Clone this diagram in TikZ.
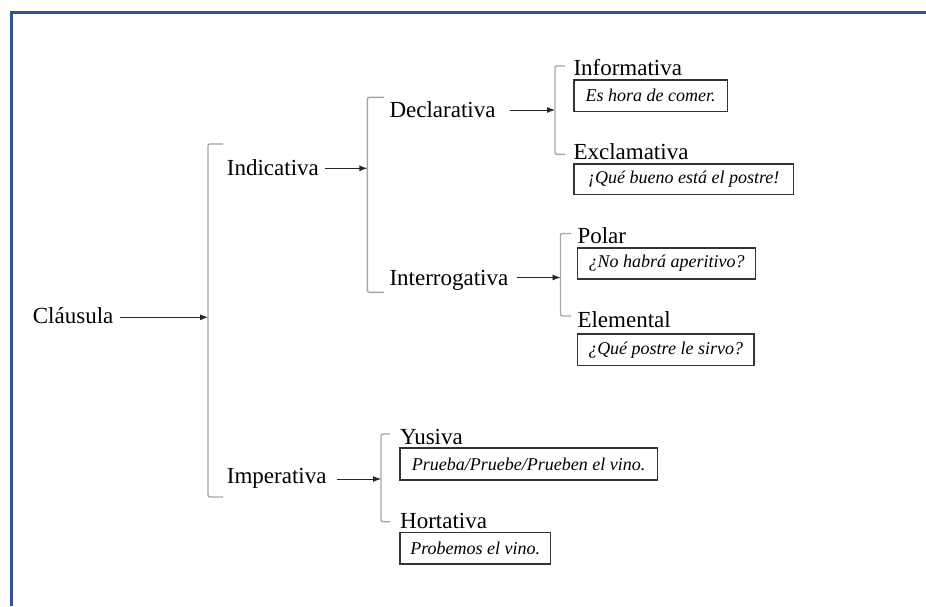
\documentclass[tikz,border=0pt]{standalone}
\usepackage{fontspec}
\setmainfont{Liberation Serif}
\usetikzlibrary{arrows.meta}
\definecolor{frameblue}{HTML}{2F5496}
\definecolor{brkgray}{HTML}{A6A6A6}
\begin{document}
\begin{tikzpicture}[x=1pt,y=-1pt,
  lab/.style={font=\fontsize{23}{26}\selectfont, anchor=base west, inner sep=0pt},
  ex/.style={draw=black!80, line width=1.3pt, font=\fontsize{18}{20}\selectfont\itshape, anchor=north west, inner sep=0pt},
  brk/.style={draw=brkgray, line width=1.4pt, rounded corners=2pt},
  arr/.style={-{Latex[length=8pt,width=6pt]}, line width=0.9pt, draw=black!85}]
\useasboundingbox (0,0) rectangle (926,606);
\fill[white] (0,0) rectangle (926,606);
\draw[frameblue, line width=3pt] (11.7,606) -- (11.7,12.5) -- (926,12.5);

% labels
\node[lab] (cl)  at (32.7,323.3) {Cláusula};
\node[lab] (ind) at (226.7,175) {Indicativa};
\node[lab] (imp) at (226.7,483.3) {Imperativa};
\node[lab] (dec) at (389.3,117) {Declarativa};
\node[lab] (int) at (389.3,285) {Interrogativa};
\node[lab] (inf) at (573.3,75.5) {Informativa};
\node[lab] (exc) at (573.3,159.3) {Exclamativa};
\node[lab] (pol) at (577.3,243.3) {Polar};
\node[lab] (ele) at (577.3,327.3) {Elemental};
\node[lab] (yus) at (400,444) {Yusiva};
\node[lab] (hor) at (400,528.3) {Hortativa};

% example boxes
\node[ex, minimum width=153.4pt, minimum height=31.4pt] (binf) at (573.3,79.3) {Es hora de comer.};
\node[ex, minimum width=219.7pt, minimum height=30.7pt] (bexc) at (573.3,163.3) {¡Qué bueno está el postre!};
\node[ex, minimum width=178.3pt, minimum height=31pt] (bpol) at (576.7,247.3) {¿No habrá aperitivo?};
\node[ex, minimum width=176.6pt, minimum height=31.7pt] (bele) at (576.7,333.3) {¿Qué postre le sirvo?};
\node[ex, minimum width=257.4pt, minimum height=32pt] (byus) at (399.3,447.3) {Prueba/Pruebe/Prueben el vino.};
\node[ex, minimum width=150.7pt, minimum height=31.6pt] (bhor) at (399.3,531.7) {Probemos el vino.};

% brackets
\draw[brk] (223,144) -- (208,144) -- (208,497) -- (223,497);
\draw[brk] (384,97.3) -- (367.3,97.3) -- (367.3,292.3) -- (384,292.3);
\draw[brk] (565,66) -- (555,66) -- (555,154.3) -- (565,154.3);
\draw[brk] (571,233.5) -- (560.5,233.5) -- (560.5,316) -- (571,316);
\draw[brk] (390,434) -- (381,434) -- (381,521.7) -- (390,521.7);

\coordinate (k1) at (208,317.3);
\coordinate (k2) at (367.3,168.3);
\coordinate (k3) at (555,110);
\coordinate (k4) at (560.5,277.5);
\coordinate (k5) at (381,479);

% arrows
\draw[arr, shorten <=6.5pt] (cl.east |- k1) -- (k1);
\draw[arr, shorten <=6pt] (ind.east |- k2) -- (k2);
\draw[arr, shorten <=14pt] (dec.east |- k3) -- (k3);
\draw[arr, shorten <=9pt] (int.east |- k4) -- (k4);
\draw[arr, shorten <=10pt] (imp.east |- k5) -- (k5);
\end{tikzpicture}
\end{document}
